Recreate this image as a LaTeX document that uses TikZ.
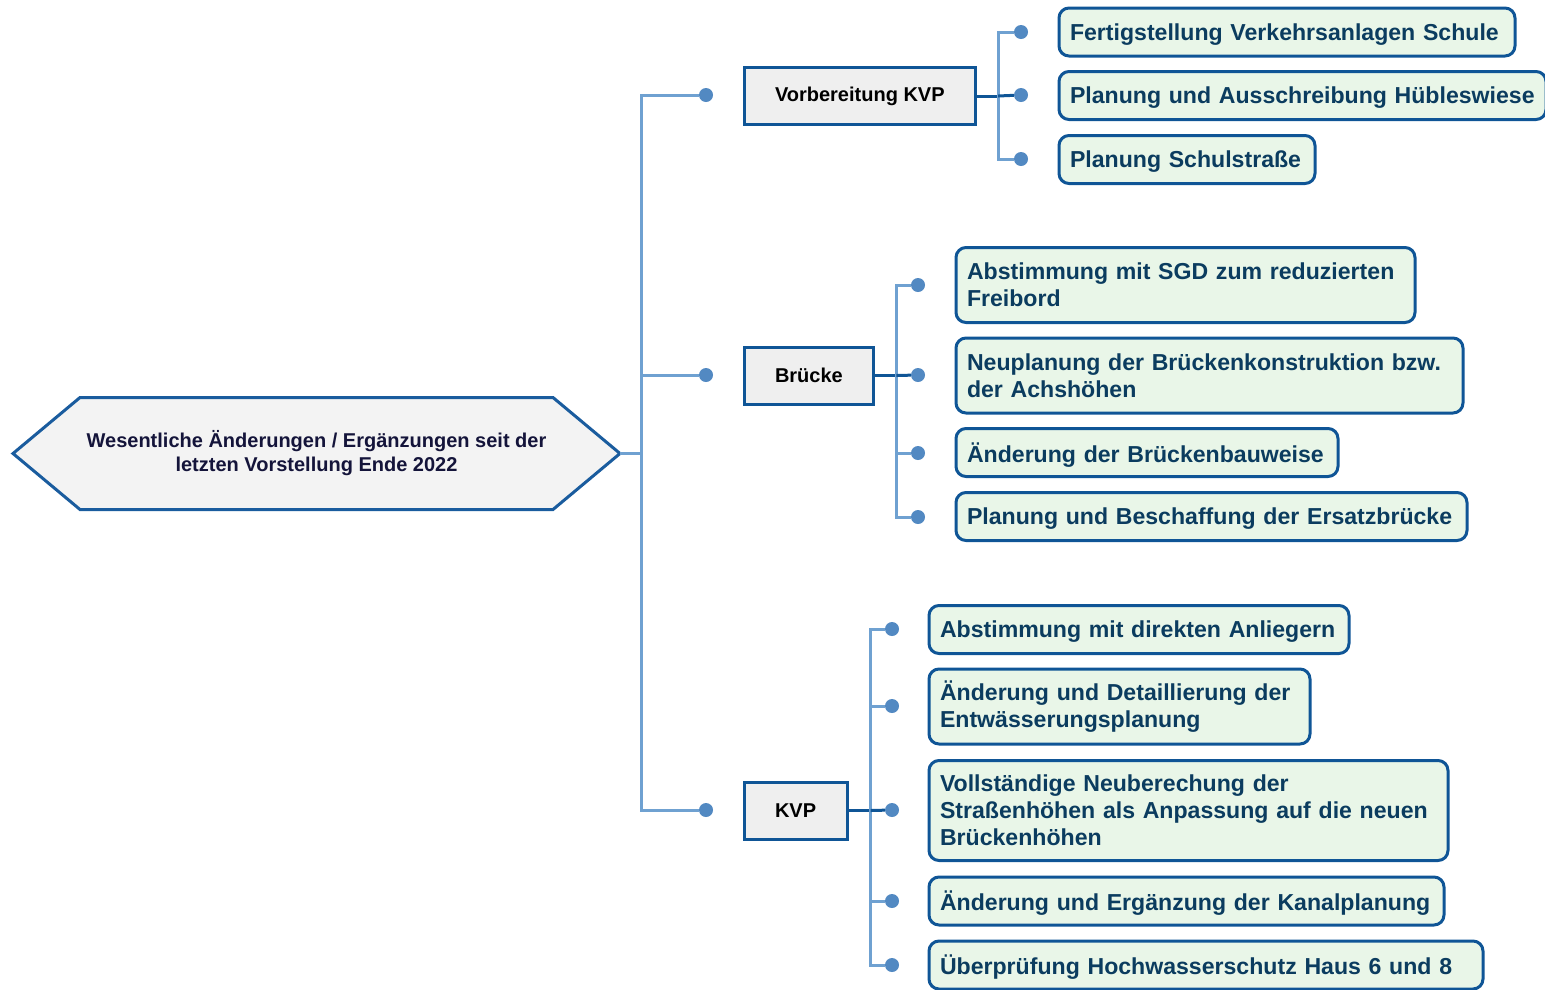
\documentclass[tikz,border=0pt]{standalone}
\usepackage{fontspec}
\setmainfont{Liberation Sans}
\definecolor{hexblue}{HTML}{1A5C9E}
\definecolor{boxblue}{HTML}{0F5596}
\definecolor{linkblue}{HTML}{6FA1D1}
\definecolor{knobblue}{HTML}{5289C2}
\definecolor{rootfill}{HTML}{F3F3F3}
\definecolor{catfill}{HTML}{EFEFEF}
\definecolor{leaffill}{HTML}{E9F6E8}
\definecolor{leaftxt}{HTML}{0B3C5F}
\definecolor{roottxt}{HTML}{14143A}

\begin{document}
\begin{tikzpicture}[x=1pt,y=-1pt,
  roottext/.style={font=\fontsize{20}{24}\selectfont\bfseries, text=roottxt, align=center,
    minimum width=473, minimum height=112, inner sep=0pt, outer sep=0pt},
  hexline/.style={draw=hexblue, line width=3pt, fill=rootfill, line join=miter},
  catbox/.style={draw=boxblue, line width=3pt, fill=catfill, anchor=west,
    font=\fontsize{20}{24}\selectfont\bfseries, minimum height=57, inner xsep=31pt},
  leafbox/.style={draw=boxblue, line width=3pt, fill=leaffill, rounded corners=10pt,
    anchor=west, align=left, font=\fontsize{23.1}{27}\selectfont\bfseries, text=leaftxt,
    minimum height=48, inner xsep=11pt, inner ysep=0pt, text width=#1},
  leafbox/.default=300pt,
  flat/.style={text depth=0pt},
  trunk/.style={draw=linkblue, line width=3pt},
  stem/.style={draw=boxblue, line width=3pt},
  knob/.style={circle, fill=knobblue, inner sep=0pt, minimum size=14pt}]
\useasboundingbox (0,0) rectangle (1545,989);

\node[roottext] (root) at (316.5,453.5) {};
\draw[hexline] (root.north west) -- (root.north east) -- ++(67,56) -- (root.south east)
  -- (root.south west) -- ++(-67,-56) -- cycle;
\node[roottext] at (root.center) {Wesentliche Änderungen / Ergänzungen seit der\\letzten Vorstellung Ende 2022};
\path (root.east) ++(67,0) coordinate (tip);

\node[knob] (k1) at (706,95) {};
\node[knob] (k2) at (706,375) {};
\node[knob] (k3) at (706,810) {};
\draw[trunk] (tip) -- ++(21,0) |- (k1);
\draw[trunk] (tip) -- ++(21,0) |- (k2);
\draw[trunk] (tip) -- ++(21,0) |- (k3);

\node[catbox] (vkvp) at (742.5,96) {Vorbereitung KVP};
\node[catbox] (bruecke) at (742.5,375.5) {Brücke};
\node[catbox] (kvp) at (742.5,810.5) {KVP};

\node[knob] (k11) at (1021,32) {};
\node[knob] (k12) at (1021,95) {};
\node[knob] (k13) at (1021,159) {};
\draw[stem] (vkvp.east) -- ++(21,0) coordinate (j1);
\draw[trunk] (j1) |- (k11);
\draw[trunk] (j1) |- (k13);
\draw[stem] (j1) -- (k12);

\node[knob] (k21) at (918,285) {};
\node[knob] (k22) at (918,375) {};
\node[knob] (k23) at (918,453) {};
\node[knob] (k24) at (918,517) {};
\draw[stem] (bruecke.east) -- ++(21,0) coordinate (j2);
\draw[trunk] (j2) |- (k21);
\draw[trunk] (j2) |- (k23);
\draw[trunk] (j2) |- (k24);
\draw[stem] (j2) -- (k22);

\node[knob] (k31) at (892,629) {};
\node[knob] (k32) at (892,706) {};
\node[knob] (k33) at (892,810) {};
\node[knob] (k34) at (892,901) {};
\node[knob] (k35) at (892,965) {};
\draw[stem] (kvp.east) -- ++(22,0) coordinate (j3);
\draw[trunk] (j3) |- (k31);
\draw[trunk] (j3) |- (k32);
\draw[trunk] (j3) |- (k34);
\draw[trunk] (j3) |- (k35);
\draw[stem] (j3) -- (k33);

\node[leafbox=434pt, flat] (l11) at (1057.5,32) {\mbox{Fertigstellung Verkehrsanlagen Schule}};
\node[leafbox=465pt, flat] (l12) at (1057.5,95.5) {\mbox{Planung und Ausschreibung Hübleswiese}};
\node[leafbox=234pt, flat] (l13) at (1057.5,159.5) {\mbox{Planung Schulstraße}};

\node[leafbox=437pt, minimum height=75] (l21) at (954.5,285) {\mbox{Abstimmung mit SGD zum reduzierten}\\Freibord};
\node[leafbox=485pt, minimum height=75] (l22) at (954.5,375.5) {\mbox{Neuplanung der Brückenkonstruktion bzw.}\\der Achshöhen};
\node[leafbox=360pt, flat] (l23) at (954.5,452.5) {\mbox{Änderung der Brückenbauweise}};
\node[leafbox=489pt, flat] (l24) at (954.5,516.5) {\mbox{Planung und Beschaffung der Ersatzbrücke}};

\node[leafbox=398pt, flat] (l31) at (927.5,629.5) {\mbox{Abstimmung mit direkten Anliegern}};
\node[leafbox=359pt, minimum height=75] (l32) at (927.5,706.5) {\mbox{Änderung und Detaillierung der}\\Entwässerungsplanung};
\node[leafbox=497pt, minimum height=100] (l33) at (927.5,810.5) {Vollständige Neuberechung der\\\mbox{Straßenhöhen als Anpassung auf die neuen}\\Brückenhöhen};
\node[leafbox=493pt, flat] (l34) at (927.5,901) {\mbox{Änderung und Ergänzung der Kanalplanung}};
\node[leafbox=532pt, flat] (l35) at (927.5,965) {\mbox{Überprüfung Hochwasserschutz Haus 6 und 8}};
\end{tikzpicture}
\end{document}
